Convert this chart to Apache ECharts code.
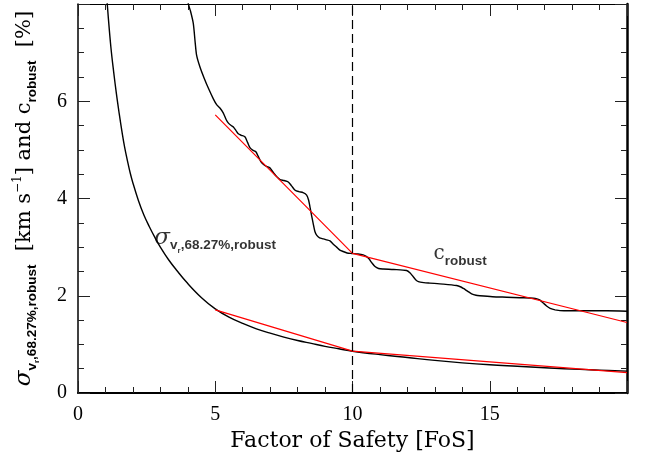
<!DOCTYPE html>
<html>
<head>
<meta charset="utf-8">
<script src="https://cdn.jsdelivr.net/npm/echarts@6/dist/echarts.min.js"></script>
<style>
html,body{margin:0;padding:0;background:#fff;}
#chart{width:648px;height:459px;}
</style>
</head>
<body>
<div id="chart"></div>
<script>
// ---- data ----
const xTickLabels = [0, 5, 10, 15];
const yTickLabels = [0, 2, 4, 6];

// sigma_{v_r,68.27%,robust} curve
const sigmaFoS  = [1.0, 1.1, 1.2, 1.3, 1.4, 1.5, 1.6, 1.7, 1.8, 1.9, 2.0, 2.2, 2.4, 2.6, 2.8, 3.0, 3.3, 3.6, 4.0, 4.5, 5.0, 5.5, 6.0, 6.5, 7.0, 7.5, 8.0, 8.5, 9.0, 9.5, 10, 11, 12, 13, 14, 15, 16, 17, 18, 19, 20];
const sigmaVals = [8.5, 7.75, 7.1, 6.6, 6.15, 5.75, 5.38, 5.05, 4.78, 4.53, 4.32, 3.96, 3.66, 3.42, 3.2, 3.0, 2.74, 2.52, 2.25, 1.96, 1.73, 1.56, 1.43, 1.32, 1.23, 1.15, 1.08, 1.02, 0.96, 0.91, 0.86, 0.79, 0.73, 0.67, 0.62, 0.58, 0.55, 0.52, 0.49, 0.47, 0.45];

// c_robust curve
const cFoS  = [3.97, 4.02, 4.1, 4.2, 4.27, 4.32, 4.44, 4.6, 4.78, 4.93, 5.05, 5.17, 5.29, 5.4, 5.48, 5.58, 5.66, 5.75, 5.84, 5.95, 6.08, 6.18, 6.27, 6.38, 6.48, 6.57, 6.66, 6.76, 6.87, 6.99, 7.12, 7.24, 7.36, 7.5, 7.66, 7.78, 7.91, 8.05, 8.2, 8.33, 8.4, 8.45, 8.51, 8.57, 8.63, 8.7, 8.8, 8.94, 9.06, 9.18, 9.3, 9.42, 9.54, 9.66, 9.8, 9.97, 10.2, 10.39, 10.5, 10.6, 10.7, 10.82, 10.95, 11.12, 11.5, 11.97, 12.1, 12.2, 12.3, 12.4, 12.6, 12.82, 13.3, 13.79, 13.95, 14.04, 14.2, 14.34, 14.5, 14.64, 15.1, 15.62, 16.1, 16.59, 16.75, 16.83, 16.95, 17.07, 17.2, 17.38, 17.7, 18.04, 19.26, 20.0];
const cVals = [8.2, 8.0, 7.85, 7.6, 7.2, 6.95, 6.71, 6.47, 6.23, 6.05, 5.93, 5.86, 5.76, 5.62, 5.55, 5.5, 5.47, 5.4, 5.33, 5.3, 5.27, 5.15, 5.04, 4.99, 4.96, 4.86, 4.76, 4.7, 4.66, 4.63, 4.53, 4.45, 4.39, 4.37, 4.34, 4.26, 4.17, 4.14, 4.12, 4.07, 3.97, 3.83, 3.65, 3.48, 3.32, 3.24, 3.19, 3.17, 3.15, 3.13, 3.06, 3.0, 2.94, 2.91, 2.88, 2.87, 2.86, 2.84, 2.81, 2.76, 2.68, 2.6, 2.56, 2.55, 2.54, 2.52, 2.47, 2.4, 2.33, 2.29, 2.27, 2.26, 2.24, 2.21, 2.18, 2.15, 2.09, 2.04, 2.01, 2.0, 1.98, 1.97, 1.96, 1.95, 1.93, 1.91, 1.85, 1.79, 1.74, 1.71, 1.69, 1.69, 1.69, 1.68];

// red broken-line fits
const sigmaFitFoS  = [5.0, 10.0, 20.0];
const sigmaFitVals = [1.71, 0.86, 0.42];
const cFitFoS  = [5.0, 10.0, 20.0];
const cFitVals = [5.72, 2.87, 1.45];

const cutFoS = 10;

// annotation anchors (data coords)
const sigmaLabelAt = [2.78, 3.27];
const cLabelAt = [12.95, 2.97];

const zip = (a, b) => a.map((v, i) => [v, b[i]]);

const serif = 'DejaVu Serif';
const sans = 'Liberation Sans';

const richTokens = {
  n:   {fontFamily: serif, fontSize: 21, lineHeight: 21, padding: [5, 0, 0, 0], verticalAlign: 'top', color: '#000'},
  sig: {fontFamily: serif, fontStyle: 'italic', fontSize: 23, lineHeight: 23, padding: [4, 0, 0, 0], verticalAlign: 'top', color: '#000'},
  c:   {fontFamily: serif, fontSize: 20, lineHeight: 20, padding: [5, 0, 0, 0], verticalAlign: 'top', color: '#000'},
  sub: {fontFamily: sans, fontWeight: 'bold', fontSize: 13.5, lineHeight: 14, padding: [16, 0, 0, 0], verticalAlign: 'top', color: '#000'},
  ss:  {fontFamily: sans, fontWeight: 'bold', fontSize: 8, lineHeight: 8, padding: [24, 0, 0, 0], verticalAlign: 'top', color: '#000'},
  sup: {fontFamily: serif, fontSize: 12, lineHeight: 12, padding: [3, 0, 0, 0], verticalAlign: 'top', color: '#000'}
};

const chart = echarts.init(document.getElementById('chart'), null, {renderer: 'canvas'});

const axisCommonX = {
  type: 'value', min: 0, max: 20, interval: 5,
  splitLine: {show: false},
  minorTick: {show: true, splitNumber: 5, length: 6, lineStyle: {color: '#222', width: 1}},
  axisTick: {show: true, inside: true, length: 12, lineStyle: {color: '#222', width: 1}}
};
const axisCommonY = {
  type: 'value', min: 0, max: 8, interval: 2,
  splitLine: {show: false},
  minorTick: {show: true, splitNumber: 4, length: 6, lineStyle: {color: '#222', width: 1}},
  axisTick: {show: true, inside: true, length: 12, lineStyle: {color: '#222', width: 1}}
};

chart.setOption({
  animation: false,
  backgroundColor: '#fff',
  grid: {left: 78, right: 21, top: 4, bottom: 66},
  xAxis: [
    Object.assign({}, axisCommonX, {
      position: 'bottom',
      axisLine: {show: true, onZero: false, lineStyle: {color: '#000', width: 2}},
      axisLabel: {
        show: true, margin: 12, showMaxLabel: false,
        fontFamily: 'Liberation Serif', fontSize: 20, color: '#000',
        formatter: v => xTickLabels.includes(v) ? String(v) : ''
      },
      name: 'Factor of Safety [FoS]',
      nameLocation: 'middle', nameGap: 37,
      nameTextStyle: {fontFamily: serif, fontSize: 22, color: '#000'}
    }),
    Object.assign({}, axisCommonX, {
      position: 'top',
      axisLine: {show: true, onZero: false, lineStyle: {color: '#000', width: 1}},
      axisLabel: {show: false}
    })
  ],
  yAxis: [
    Object.assign({}, axisCommonY, {
      position: 'left',
      axisLine: {show: true, onZero: false, lineStyle: {color: '#000', width: 1.5}},
      axisLabel: {
        show: true, margin: 11, showMaxLabel: false,
        fontFamily: 'Liberation Serif', fontSize: 20, color: '#000',
        formatter: v => yTickLabels.includes(v) ? String(v) : ''
      },
      name: '{sig|σ}{sub|v}{ss|r}{sub|,68.27%,robust}{n|  [km s}{sup|−1}{n|] and c}{sub|robust}{n|  [%]}',
      nameLocation: 'middle', nameRotate: 90, nameGap: 46,
      nameTextStyle: {rich: richTokens, padding: [0, 0, 0, 0]}
    }),
    Object.assign({}, axisCommonY, {
      position: 'right',
      axisLine: {show: true, onZero: false, lineStyle: {color: '#000', width: 2.5}},
      axisLabel: {show: false}
    })
  ],
  series: [
    {
      name: 'sigma', type: 'line', xAxisIndex: 0, yAxisIndex: 0,
      data: zip(sigmaFoS, sigmaVals), smooth: 0.4, showSymbol: false, symbol: 'none',
      lineStyle: {color: '#000', width: 1.4}, clip: true, z: 3,
      markLine: {
        silent: true, symbol: ['none', 'none'], label: {show: false},
        lineStyle: {color: '#000', width: 1.2, type: [9, 5]},
        data: [{xAxis: cutFoS}]
      }
    },
    {
      name: 'c_robust', type: 'line', xAxisIndex: 0, yAxisIndex: 0,
      data: zip(cFoS, cVals), smooth: 0.25, showSymbol: false, symbol: 'none',
      lineStyle: {color: '#000', width: 1.4}, clip: true, z: 3
    },
    {
      name: 'sigma fit', type: 'line', xAxisIndex: 0, yAxisIndex: 0,
      data: zip(sigmaFitFoS, sigmaFitVals), showSymbol: false, symbol: 'none',
      lineStyle: {color: '#ff0000', width: 1.2}, z: 4
    },
    {
      name: 'c fit', type: 'line', xAxisIndex: 0, yAxisIndex: 0,
      data: zip(cFitFoS, cFitVals), showSymbol: false, symbol: 'none',
      lineStyle: {color: '#ff0000', width: 1.2}, z: 4
    },
    {
      name: 'labels', type: 'scatter', xAxisIndex: 0, yAxisIndex: 0,
      symbolSize: 0, silent: true, z: 5,
      data: [
        {value: sigmaLabelAt, label: {show: true, position: 'right', distance: 0,
          formatter: '{sig|σ}{sub|v}{ss|r}{sub|,68.27%,robust}', rich: richTokens}},
        {value: cLabelAt, label: {show: true, position: 'right', distance: 0,
          formatter: '{c|c}{sub|robust}', rich: richTokens}}
      ]
    }
  ]
});
</script>
</body>
</html>
